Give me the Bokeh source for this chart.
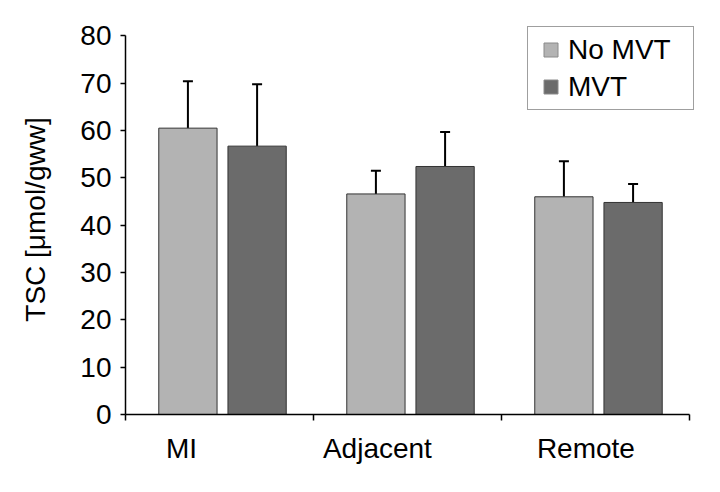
from bokeh.plotting import figure
from bokeh.models import Range1d, FixedTicker, Legend, LegendItem, ColumnDataSource
from bokeh.embed import file_html
from bokeh.resources import INLINE

# ---- data ----
categories = ["MI", "Adjacent", "Remote"]
series_names = ["No MVT", "MVT"]
no_mvt = [60.5, 46.6, 46.0]
no_mvt_sd = [9.9, 4.9, 7.5]
mvt = [56.7, 52.4, 44.8]
mvt_sd = [13.1, 7.3, 3.9]
y_ticks = [0, 10, 20, 30, 40, 50, 60, 70, 80]
y_max = 80

# ---- style / layout ----
FONT = "Liberation Sans"
FS = "28px"
label_shift = [-0.202, -0.16, -0.051]   # category labels sit left of the bar pairs
offsets = {"No MVT": -0.168, "MVT": 0.2}
colors = {"No MVT": "#b3b3b3", "MVT": "#6b6b6b"}

n = len(categories)
p = figure(width=704, height=476, output_backend="svg", toolbar_location=None,
           x_range=Range1d(0, n + 0.032), y_range=Range1d(0, y_max + 2.4),
           min_border_left=125, min_border_right=9, min_border_top=24, min_border_bottom=62)
p.outline_line_color = None
p.xgrid.visible = False
p.ygrid.visible = False
p.background_fill_color = "white"
p.border_fill_color = "white"

centers = [i + 0.5 for i in range(n)]
boundaries = [float(i) for i in range(n + 1)]
label_x = [c + d for c, d in zip(centers, label_shift)]
values = {"No MVT": (no_mvt, no_mvt_sd), "MVT": (mvt, mvt_sd)}

legend_items = []
for name in series_names:
    vals, sds = values[name]
    src = ColumnDataSource(dict(
        x=[c + offsets[name] for c in centers],
        top=vals,
        err_top=[v + s for v, s in zip(vals, sds)],
    ))
    p.segment(x0="x", y0="top", x1="x", y1="err_top", source=src,
              line_color="black", line_width=2)
    p.scatter(x="x", y="err_top", source=src, marker="dash", size=10,
              line_color="black", line_width=2)
    p.vbar(x="x", top="top", bottom=0, width=0.31, source=src,
           fill_color=colors[name], line_color="#333333", line_width=1)
    lr = p.scatter(x="x", y="top", source=src, marker="square", size=14,
                   fill_color=colors[name], line_color="#8a8a8a", line_width=1,
                   visible=False)
    legend_items.append(LegendItem(label=name, renderers=[lr]))

# x axis: labels under the categories, tick marks at category boundaries
xa = p.xaxis[0]
xa.bounds = (0, n)
xa.ticker = FixedTicker(ticks=label_x, minor_ticks=boundaries)
xa.major_label_overrides = {lx: cat for lx, cat in zip(label_x, categories)}
xa.major_tick_out = 0
xa.major_tick_in = 0
xa.minor_tick_out = 6
xa.minor_tick_in = 0
xa.minor_tick_line_color = "black"
xa.minor_tick_line_width = 1.5
xa.axis_line_color = "black"
xa.axis_line_width = 1.5
xa.major_label_standoff = 12
xa.major_label_text_font = FONT
xa.major_label_text_font_size = FS
xa.major_label_text_color = "black"

ya = p.yaxis[0]
ya.bounds = (0, y_max)
ya.ticker = FixedTicker(ticks=y_ticks, minor_ticks=[])
ya.major_tick_out = 5
ya.major_tick_in = 0
ya.major_tick_line_color = "black"
ya.major_tick_line_width = 1.5
ya.minor_tick_line_color = None
ya.axis_line_color = "black"
ya.axis_line_width = 1.5
ya.major_label_standoff = 9
ya.major_label_text_font = FONT
ya.major_label_text_font_size = FS
ya.major_label_text_color = "black"
ya.axis_label = "TSC [\u03bcmol/gww]"
ya.axis_label_text_font = FONT
ya.axis_label_text_font_size = FS
ya.axis_label_text_font_style = "normal"
ya.axis_label_text_color = "black"
ya.axis_label_standoff = 26

legend = Legend(items=legend_items, location=(402, 304), orientation="vertical",
                padding=5, spacing=2, margin=0,
                glyph_width=35, glyph_height=35, label_standoff=0, label_width=120,
                label_text_font=FONT, label_text_font_size=FS, label_text_color="black",
                border_line_color="#404040", border_line_width=1.5,
                background_fill_color="white", background_fill_alpha=1.0)
p.add_layout(legend, "center")

open("out.html", "w").write(file_html(p, INLINE))
